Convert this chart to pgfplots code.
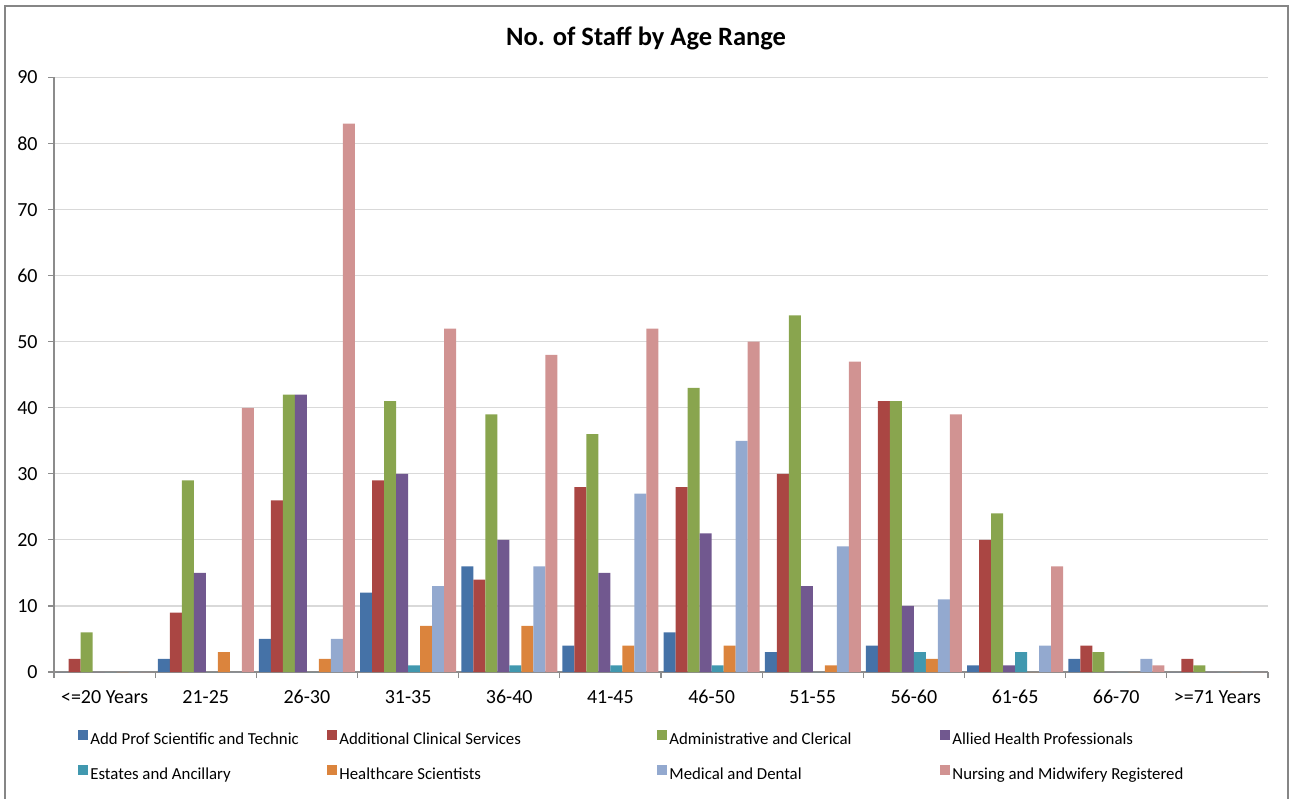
\documentclass[border=0pt]{standalone}
\usepackage{pgfplots}
\pgfplotsset{compat=1.18}
\usepackage{pgfplotstable}
\usepackage{fontspec}
\setmainfont{Carlito}

\definecolor{c1}{HTML}{4572A7}
\definecolor{c2}{HTML}{AA4643}
\definecolor{c3}{HTML}{89A54E}
\definecolor{c4}{HTML}{71588F}
\definecolor{c5}{HTML}{4198AF}
\definecolor{c6}{HTML}{DB843D}
\definecolor{c7}{HTML}{93A9CF}
\definecolor{c8}{HTML}{D19392}
\definecolor{gridc}{HTML}{D9D9D9}
\definecolor{axc}{HTML}{8C8C8C}
\definecolor{framec}{HTML}{868686}

\pgfplotstableread{
cat a  b  c  d  e f g  h
0   0  2  6  0  0 0 0  0
1   2  9  29 15 0 3 0  40
2   5  26 42 42 0 2 5  83
3   12 29 41 30 1 7 13 52
4   16 14 39 20 1 7 16 48
5   4  28 36 15 1 4 27 52
6   6  28 43 21 1 4 35 50
7   3  30 54 13 0 1 19 47
8   4  41 41 10 3 2 11 39
9   1  20 24 1  3 0 4  16
10  2  4  3  0  0 0 2  1
11  0  2  1  0  0 0 0  0
}\data

\newcommand\colA[1]{\makebox[117.5pt][l]{#1}}
\newcommand\colB[1]{\makebox[158pt][l]{#1}}
\newcommand\colC[1]{\makebox[134.5pt][l]{#1}}

\begin{document}
\begin{tikzpicture}
\path[use as bounding box] (0pt,0pt) rectangle (645pt,399pt);
\draw[framec, line width=1pt] (2.3pt,-5pt) -- (2.3pt,396pt) -- (644pt,396pt) -- (644pt,-5pt);
\begin{axis}[
  at={(27pt,63pt)}, anchor=south west,
  scale only axis, width=607pt, height=297.25pt,
  ybar=0pt, bar width=6pt,
  xmin=-0.5, xmax=11.5, ymin=0, ymax=90,
  ytick={0,10,...,90},
  xtick={0,...,11},
  xticklabels={{<=20 Years},21-25,26-30,31-35,36-40,41-45,46-50,51-55,56-60,61-65,66-70,{>=71 Years}},
  minor xtick={-0.5,0.5,...,11.5},
  axis lines*=left,
  axis line style={axc, line width=0.6pt},
  ymajorgrids,
  major grid style={gridc, line width=0.6pt},
  tick align=outside,
  major tick length=3pt, minor tick length=3pt,
  major x tick style={draw=none},
  minor x tick style={axc, line width=0.6pt},
  ytick style={axc, line width=0.6pt},
  tick label style={font=\fontsize{10}{12}\selectfont, text=black},
  /pgf/number format/assume math mode=true,
  yticklabel style={inner sep=0pt, xshift=-5pt},
  xticklabel style={anchor=base, inner sep=0pt, yshift=-12.8pt},
  legend columns=4,
  legend cell align=left,
  legend image code/.code={\fill[#1] (0pt,0.5pt) rectangle (5pt,5.5pt);},
  legend style={at={(0.01977,-0.09655)}, anchor=north west, draw=none, fill=none,
    inner sep=0pt, row sep=7pt, column sep=0pt,
    font=\fontsize{8.4}{10}\selectfont,
    nodes={inner sep=1pt, text height=6pt, text depth=2pt}},
]
\addplot[fill=c1, draw=none] table[x=cat,y=a]{\data};
\addlegendentry{\colA{Add Prof Scientific and Technic}}
\addplot[fill=c2, draw=none] table[x=cat,y=b]{\data};
\addlegendentry{\colB{Additional Clinical Services}}
\addplot[fill=c3, draw=none] table[x=cat,y=c]{\data};
\addlegendentry{\colC{Administrative and Clerical}}
\addplot[fill=c4, draw=none] table[x=cat,y=d]{\data};
\addlegendentry{Allied Health Professionals}
\addplot[fill=c5, draw=none] table[x=cat,y=e]{\data};
\addlegendentry{\colA{Estates and Ancillary}}
\addplot[fill=c6, draw=none] table[x=cat,y=f]{\data};
\addlegendentry{\colB{Healthcare Scientists}}
\addplot[fill=c7, draw=none] table[x=cat,y=g]{\data};
\addlegendentry{\colC{Medical and Dental}}
\addplot[fill=c8, draw=none] table[x=cat,y=h]{\data};
\addlegendentry{Nursing and Midwifery Registered}
\end{axis}
\node[font=\bfseries\fontsize{13.25}{15}\selectfont] at (323pt,380pt) {No. of Staff by Age Range};
\end{tikzpicture}
\end{document}
